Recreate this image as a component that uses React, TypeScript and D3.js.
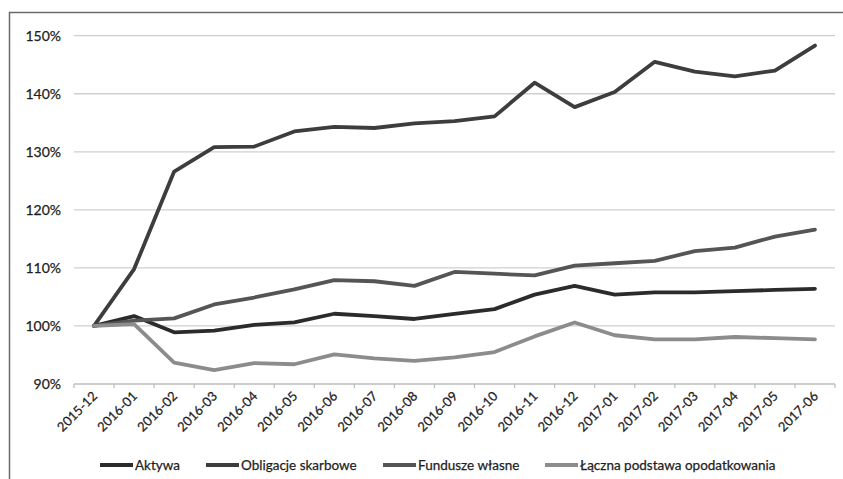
import React from "react";
import * as d3 from "d3";

const categories = [
  "2015-12", "2016-01", "2016-02", "2016-03", "2016-04", "2016-05", "2016-06",
  "2016-07", "2016-08", "2016-09", "2016-10", "2016-11", "2016-12", "2017-01",
  "2017-02", "2017-03", "2017-04", "2017-05", "2017-06",
];

const aktywa = [100, 101.7, 98.9, 99.2, 100.2, 100.6, 102.1, 101.7, 101.2, 102.1, 102.9, 105.4, 106.9, 105.4, 105.8, 105.8, 106.0, 106.2, 106.4];
const obligacje = [100, 109.8, 126.6, 130.8, 130.9, 133.5, 134.3, 134.1, 134.9, 135.3, 136.1, 141.9, 137.7, 140.3, 145.5, 143.8, 143.0, 144.0, 148.3];
const fundusze = [100, 100.9, 101.3, 103.7, 104.9, 106.3, 107.9, 107.7, 106.9, 109.3, 109.0, 108.7, 110.4, 110.8, 111.2, 112.9, 113.5, 115.4, 116.6];
const laczna = [100, 100.3, 93.7, 92.4, 93.6, 93.4, 95.1, 94.4, 94.0, 94.6, 95.5, 98.2, 100.6, 98.4, 97.7, 97.7, 98.1, 97.9, 97.7];

const seriesNames = ["Aktywa", "Obligacje skarbowe", "Fundusze własne", "Łączna podstawa opodatkowania"];
const seriesColors = ["#2b2b2b", "#3d3d3d", "#555555", "#8c8c8c"];
const yTicks = [90, 100, 110, 120, 130, 140, 150];

export default function App() {
  const W = 843, H = 479;
  const left = 74, right = 835, top = 35.7, bottom = 384;
  const x = d3.scaleBand<string>().domain(categories).range([left, right]);
  const y = d3.scaleLinear().domain([90, 150]).range([bottom, top]);
  const series = [aktywa, obligacje, fundusze, laczna];
  const line = d3
    .line<number>()
    .x((_, i) => (x(categories[i]) as number) + x.bandwidth() / 2)
    .y((d) => y(d));
  const font = "Lato, 'Open Sans', sans-serif";
  const legendX = [100, 206, 383, 545];

  return (
    <svg width={W} height={H} style={{ position: "absolute", left: 0, top: 0, background: "#fff" }} fontFamily={font}>
      <rect x={0} y={0} width={W} height={H} fill="#fff" />
      {/* frame */}
      <path d={`M9.5,${H} L9.5,12.5 L${W},12.5`} fill="none" stroke="#6a6a6a" strokeWidth={1.5} />
      {/* gridlines */}
      {yTicks.map((t) => (
        <g key={t}>
          {t !== 90 && (
            <line x1={left} x2={right} y1={y(t)} y2={y(t)} stroke="#cfcfcf" strokeWidth={1.3} />
          )}
          <text x={61} y={y(t)} dy="0.35em" textAnchor="end" fontSize={14} fill="#1e1e1e" stroke="#1e1e1e" strokeWidth={0.25}>
            {t}%
          </text>
        </g>
      ))}
      {/* x axis */}
      <line x1={left} x2={right} y1={bottom} y2={bottom} stroke="#bdbdbd" strokeWidth={1.3} />
      {categories.map((c, i) => (
        <line key={"tk" + i} x1={(x(c) as number)} x2={(x(c) as number)} y1={bottom} y2={bottom + 4} stroke="#bdbdbd" strokeWidth={1.3} />
      ))}
      <line x1={right} x2={right} y1={bottom} y2={bottom + 4} stroke="#bdbdbd" strokeWidth={1.3} />
      {categories.map((c) => {
        const cx = (x(c) as number) + x.bandwidth() / 2 + 4;
        const cy = bottom + 13;
        return (
          <text key={c} x={cx} y={cy} textAnchor="end" fontSize={13} fill="#1e1e1e" stroke="#1e1e1e" strokeWidth={0.25} transform={`rotate(-45 ${cx} ${cy})`}>
            {c}
          </text>
        );
      })}
      {/* lines */}
      {series.map((s, k) => (
        <path key={k} d={line(s) as string} fill="none" stroke={seriesColors[k]} strokeWidth={3.8} strokeLinejoin="round" strokeLinecap="round" />
      ))}
      {/* legend */}
      {seriesNames.map((n, k) => (
        <g key={n}>
          <line x1={legendX[k]} x2={legendX[k] + 33} y1={465} y2={465} stroke={seriesColors[k]} strokeWidth={3.8} />
          <text x={legendX[k] + 35} y={465} dy="0.35em" fontSize={13.5} fill="#1e1e1e" stroke="#1e1e1e" strokeWidth={0.25}>
            {n}
          </text>
        </g>
      ))}
    </svg>
  );
}
